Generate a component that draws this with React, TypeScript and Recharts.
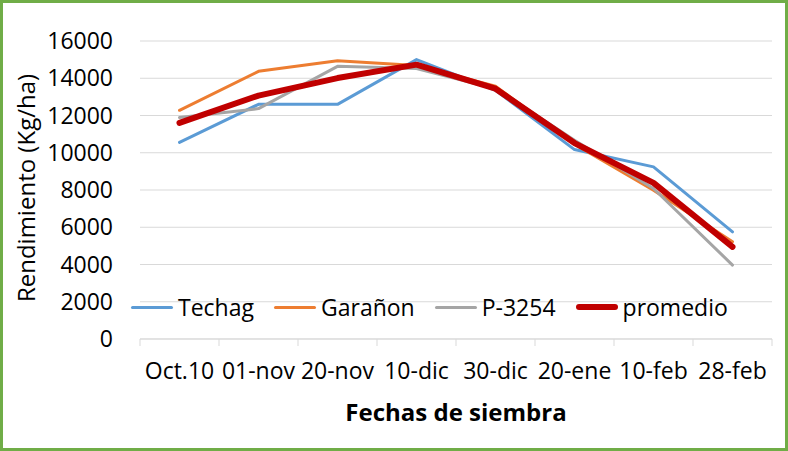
import { CartesianGrid, Label, Line, LineChart, XAxis, YAxis } from "recharts";

const categories = ["Oct.10", "01-nov", "20-nov", "10-dic", "30-dic", "20-ene", "10-feb", "28-feb"];
const techag = [10560, 12600, 12600, 15000, 13350, 10170, 9240, 5750];
const garanon = [12280, 14370, 14940, 14690, 13570, 10460, 7990, 5220];
const p3254 = [11890, 12370, 14640, 14520, 13440, 10670, 8080, 3970];
const promedio = [11600, 13070, 14010, 14730, 13440, 10520, 8380, 4950];
const yTicks = [0, 2000, 4000, 6000, 8000, 10000, 12000, 14000, 16000];

const series = [
  { key: "techag", name: "Techag", color: "#5B9BD5", width: 3 },
  { key: "garanon", name: "Garañon", color: "#ED7D31", width: 3 },
  { key: "p3254", name: "P-3254", color: "#A5A5A5", width: 3 },
  { key: "promedio", name: "promedio", color: "#C00000", width: 6 },
];

const FONT = "'Open Sans', 'Noto Sans', sans-serif";
const GRID = "#D9D9D9";

function CategoryTick({ x, y, payload }: { x?: number; y?: number; payload?: { value: number } }) {
  const v = payload?.value ?? 0;
  if (Number.isInteger(v)) {
    return <line x1={x} x2={x} y1={y} y2={(y ?? 0) + 7} stroke={GRID} />;
  }
  return (
    <text x={x} y={(y ?? 0) + 40} textAnchor="middle" fontSize={23} fill="#000" fontFamily={FONT}>
      {categories[Math.floor(v)]}
    </text>
  );
}

function YTitle({ viewBox }: { viewBox?: { x: number; y: number; width: number; height: number } }) {
  if (!viewBox) return null;
  const cx = 25;
  const cy = viewBox.y + viewBox.height / 2 - 2;
  return (
    <text
      x={cx}
      y={cy}
      transform={`rotate(-90 ${cx} ${cy})`}
      textAnchor="middle"
      dominantBaseline="central"
      fontSize={24}
      fill="#000"
      fontFamily={FONT}
    >
      Rendimiento (Kg/ha)
    </text>
  );
}

export default function App() {
  const data = categories.map((label, i) => ({
    pos: i + 0.5,
    label,
    techag: techag[i],
    garanon: garanon[i],
    p3254: p3254[i],
    promedio: promedio[i],
  }));
  const xTicks = Array.from({ length: categories.length * 2 + 1 }, (_, i) => i / 2);

  return (
    <div
      style={{
        position: "absolute",
        left: 0,
        top: 0,
        width: 788,
        height: 451,
        background: "#fff",
        fontFamily: FONT,
      }}
    >
      <LineChart width={788} height={451} data={data} margin={{ top: 41, right: 16, bottom: 0, left: 0 }}>
        <CartesianGrid vertical={false} stroke={GRID} strokeWidth={1} />
        <XAxis
          dataKey="pos"
          type="number"
          domain={[0, categories.length]}
          ticks={xTicks}
          interval={0}
          tick={<CategoryTick />}
          tickLine={false}
          tickSize={0}
          tickMargin={0}
          axisLine={{ stroke: GRID }}
          height={112}
        >
          <Label
            value="Fechas de siembra"
            position="insideBottom"
            offset={30}
            style={{ fontSize: 24, fontWeight: 700, fill: "#000", fontFamily: FONT }}
          />
        </XAxis>
        <YAxis
          width={140}
          domain={[0, 16000]}
          ticks={yTicks}
          interval={0}
          axisLine={false}
          tickLine={false}
          tickSize={0}
          tickMargin={27}
          tick={{ fontSize: 23, fill: "#000", fontFamily: FONT }}
        >
          <Label content={<YTitle />} />
        </YAxis>
        {series.map((s) => (
          <Line
            key={s.key}
            type="linear"
            dataKey={s.key}
            name={s.name}
            stroke={s.color}
            strokeWidth={s.width}
            strokeLinejoin="round"
            strokeLinecap="round"
            dot={false}
            activeDot={false}
            isAnimationActive={false}
          />
        ))}
      </LineChart>
      <div
        style={{
          position: "absolute",
          left: 131,
          top: 292,
          display: "flex",
          alignItems: "center",
          gap: 20,
          fontSize: 23,
          lineHeight: "30px",
          color: "#000",
        }}
      >
        {series.map((s) => (
          <div key={s.key} style={{ display: "flex", alignItems: "center" }}>
            <span
              style={{
                display: "inline-block",
                width: 42,
                height: s.width,
                background: s.color,
                marginRight: 5,
                borderRadius: s.width / 2,
              }}
            />
            <span>{s.name}</span>
          </div>
        ))}
      </div>
      <div
        style={{
          position: "absolute",
          left: 0,
          top: 0,
          width: 788,
          height: 451,
          boxSizing: "border-box",
          border: "3px solid #70AD47",
          pointerEvents: "none",
        }}
      />
    </div>
  );
}
